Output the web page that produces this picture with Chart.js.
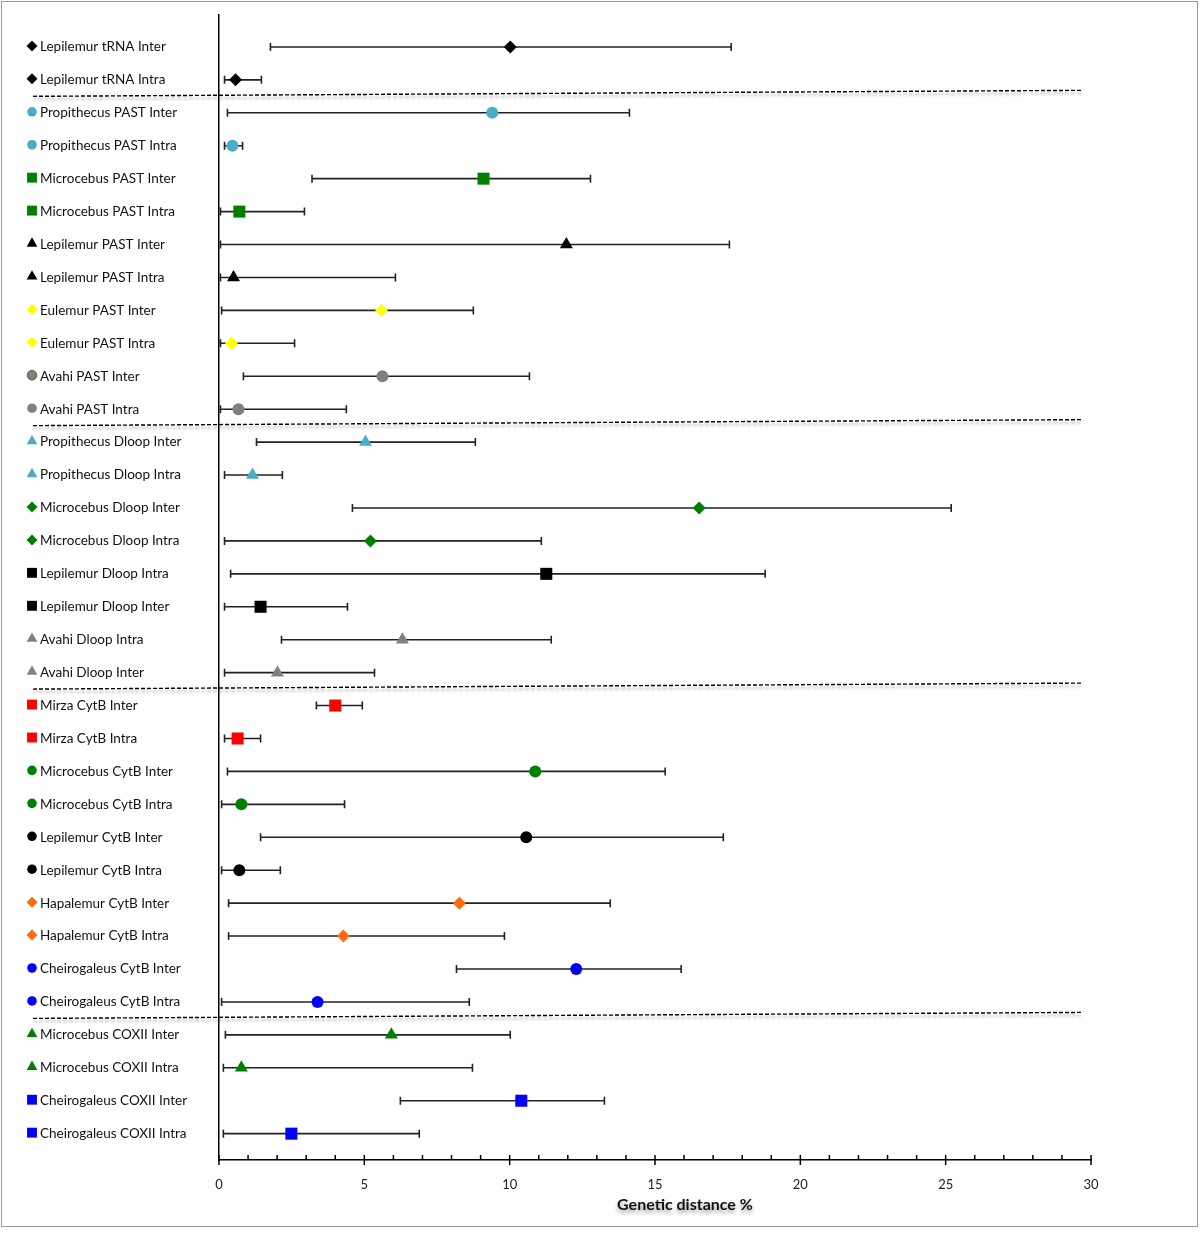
<!DOCTYPE html>
<html>
<head>
<meta charset="utf-8">
<script src="https://cdn.jsdelivr.net/npm/chart.js@4/dist/chart.umd.min.js"></script>
<style>
  body { margin: 0; background: #fff; }
  #wrap { position: relative; width: 1200px; height: 1235px; }
  #frame { position: absolute; left: 1px; top: 1px; width: 1195px; height: 1224px;
           border: 1.5px solid #9a9a9a; pointer-events: none; }
</style>
</head>
<body>
<div id="wrap">
  <canvas id="chart" width="1200" height="1235"></canvas>
  <div id="frame"></div>
</div>
<script>
// rows, top to bottom
const labels = [
  'Lepilemur tRNA Inter', 'Lepilemur tRNA Intra',
  'Propithecus PAST Inter', 'Propithecus PAST Intra',
  'Microcebus PAST Inter', 'Microcebus PAST Intra',
  'Lepilemur PAST Inter', 'Lepilemur PAST Intra',
  'Eulemur PAST Inter', 'Eulemur PAST Intra',
  'Avahi PAST Inter', 'Avahi PAST Intra',
  'Propithecus Dloop Inter', 'Propithecus Dloop Intra',
  'Microcebus Dloop Inter', 'Microcebus Dloop Intra',
  'Lepilemur Dloop Intra', 'Lepilemur Dloop Inter',
  'Avahi Dloop Intra', 'Avahi Dloop Inter',
  'Mirza CytB Inter', 'Mirza CytB Intra',
  'Microcebus CytB Inter', 'Microcebus CytB Intra',
  'Lepilemur CytB Inter', 'Lepilemur CytB Intra',
  'Hapalemur CytB Inter', 'Hapalemur CytB Intra',
  'Cheirogaleus CytB Inter', 'Cheirogaleus CytB Intra',
  'Microcebus COXII Inter', 'Microcebus COXII Intra',
  'Cheirogaleus COXII Inter', 'Cheirogaleus COXII Intra'
];

// genetic distance % : mean, lower and upper ends of the bars
const means = [10.02, 0.57, 9.4, 0.46, 9.1, 0.7, 11.95, 0.5, 5.59, 0.43, 5.62, 0.67,
  5.04, 1.15, 16.52, 5.21, 11.26, 1.43, 6.31, 2.01,
  4.0, 0.64, 10.88, 0.77, 10.57, 0.7, 8.27, 4.28, 12.29, 3.39,
  5.93, 0.77, 10.4, 2.49];
const lows = [1.77, 0.19, 0.29, 0.19, 3.2, 0.05, 0.05, 0.05, 0.09, 0.05, 0.84, 0.05,
  1.29, 0.19, 4.59, 0.19, 0.4, 0.19, 2.15, 0.19,
  3.35, 0.19, 0.29, 0.09, 1.43, 0.09, 0.33, 0.33, 8.17, 0.09,
  0.22, 0.15, 6.24, 0.15];
const highs = [17.62, 1.46, 14.12, 0.81, 12.78, 2.94, 17.56, 6.07, 8.75, 2.6, 10.68, 4.38,
  8.82, 2.18, 25.19, 11.09, 18.79, 4.42, 11.43, 5.35,
  4.93, 1.43, 15.35, 4.32, 17.35, 2.11, 13.46, 9.82, 15.9, 8.61,
  10.02, 8.72, 13.26, 6.89];

// marker per row
const markers = ['rectRot', 'rectRot', 'circle', 'circle', 'rect', 'rect', 'triangle', 'triangle',
  'rectRot', 'rectRot', 'circle', 'circle', 'triangle', 'triangle', 'rectRot', 'rectRot',
  'rect', 'rect', 'triangle', 'triangle', 'rect', 'rect', 'circle', 'circle',
  'circle', 'circle', 'rectRot', 'rectRot', 'circle', 'circle', 'triangle', 'triangle',
  'rect', 'rect'];
const colors = ['#000000', '#000000', '#4bacc6', '#4bacc6', '#008000', '#008000', '#000000', '#000000',
  '#ffff00', '#ffff00', '#808080', '#808080', '#4bacc6', '#4bacc6', '#008000', '#008000',
  '#000000', '#000000', '#808080', '#808080', '#ff0000', '#ff0000', '#008000', '#008000',
  '#000000', '#000000', '#ff6a10', '#ff6a10', '#0000ff', '#0000ff', '#008000', '#008000',
  '#0000ff', '#0000ff'];

// dashed lines go after these rows
const groupEnds = [1, 11, 19, 29];
const xTicks = [0, 5, 10, 15, 20, 25, 30];

const plotSize = { circle: 6, rect: 8.5, rectRot: 6.5, triangle: 7.5 };
const iconSize = { circle: 4.8, rect: 7, rectRot: 5.5, triangle: 6.2 };
const FONT = 'Lato, "Open Sans", sans-serif';

function drawMarker(ctx, style, r, x, y, color, edge) {
  ctx.save();
  ctx.fillStyle = color;
  ctx.strokeStyle = edge || color;
  Chart.helpers.drawPoint(ctx, { pointStyle: style, radius: r, rotation: 0, borderWidth: edge ? 1.2 : 0 }, x, y);
  ctx.restore();
}

const decorations = {
  id: 'decorations',
  beforeDatasetsDraw(chart) {
    const { ctx, scales: { x, y } } = chart;
    ctx.save();
    ctx.strokeStyle = '#222';
    ctx.lineWidth = 1.6;
    for (let i = 0; i < labels.length; i++) {
      const py = y.getPixelForValue(i);
      const x0 = x.getPixelForValue(lows[i]);
      const x1 = x.getPixelForValue(highs[i]);
      ctx.beginPath();
      ctx.moveTo(x0, py); ctx.lineTo(x1, py);
      ctx.moveTo(x0, py - 4); ctx.lineTo(x0, py + 4);
      ctx.moveTo(x1, py - 4); ctx.lineTo(x1, py + 4);
      ctx.stroke();
    }
    ctx.restore();
  },
  afterDraw(chart) {
    const { ctx, scales: { x, y } } = chart;
    // minor and major ticks on the x axis
    const base = chart.chartArea.bottom;
    ctx.save();
    ctx.strokeStyle = '#000';
    ctx.lineWidth = 1.5;
    for (let v = 0; v <= 30; v++) {
      const px = x.getPixelForValue(v);
      ctx.beginPath();
      ctx.moveTo(px, base - 5);
      ctx.lineTo(px, v % 5 === 0 ? base + 5 : base);
      ctx.stroke();
    }
    ctx.restore();

    // group separators
    ctx.save();
    ctx.strokeStyle = '#000';
    ctx.lineWidth = 1.4;
    ctx.setLineDash([4, 2]);
    ctx.shadowColor = 'rgba(0,0,0,0.35)';
    ctx.shadowBlur = 3;
    ctx.shadowOffsetY = 3;
    groupEnds.forEach(g => {
      const py = (y.getPixelForValue(g) + y.getPixelForValue(g + 1)) / 2;
      ctx.beginPath();
      ctx.moveTo(33, py);
      ctx.lineTo(1081, py - 6);
      ctx.stroke();
    });
    ctx.restore();

    // legend markers in front of the row labels
    for (let i = 0; i < labels.length; i++) {
      const py = y.getPixelForValue(i);
      drawMarker(ctx, markers[i], iconSize[markers[i]], 32, py - 1, colors[i], i === 10 ? '#3f6b2a' : null);
    }

    // axis title
    ctx.save();
    ctx.font = 'bold 16px ' + FONT;
    ctx.fillStyle = '#111';
    ctx.textAlign = 'center';
    ctx.textBaseline = 'middle';
    ctx.shadowColor = 'rgba(0,0,0,0.4)';
    ctx.shadowBlur = 4;
    ctx.shadowOffsetY = 3;
    ctx.fillText('Genetic distance %', 685, 1205);
    ctx.restore();
  }
};

new Chart(document.getElementById('chart'), {
  type: 'scatter',
  data: {
    datasets: [{
      data: means.map((m, i) => ({ x: m, y: i })),
      pointStyle: markers,
      pointRadius: markers.map(m => plotSize[m]),
      pointBackgroundColor: colors,
      pointBorderWidth: 0
    }]
  },
  options: {
    responsive: false,
    animation: false,
    layout: { padding: { left: 40, right: 109, top: 15, bottom: 0 } },
    plugins: { legend: { display: false }, tooltip: { enabled: false } },
    scales: {
      x: {
        type: 'linear',
        min: 0, max: 30,
        afterFit: s => { s.height = 75; },
        afterBuildTicks: s => { s.ticks = xTicks.map(v => ({ value: v })); },
        grid: { drawOnChartArea: false, drawTicks: false },
        border: { color: '#000', width: 1.5 },
        ticks: { padding: 17, color: '#222', font: { family: FONT, size: 13 } }
      },
      y: {
        type: 'linear',
        reverse: true,
        min: -0.97, max: 33.8,
        afterFit: s => { s.width = 179; },
        afterBuildTicks: s => { s.ticks = labels.map((_, i) => ({ value: i })); },
        grid: { drawOnChartArea: false, drawTicks: false },
        border: { color: '#000', width: 1.5 },
        ticks: {
          autoSkip: false,
          crossAlign: 'far',
          color: '#111',
          font: { family: FONT, size: 13.5 },
          callback: v => labels[v]
        }
      }
    }
  },
  plugins: [decorations]
});
</script>
</body>
</html>
